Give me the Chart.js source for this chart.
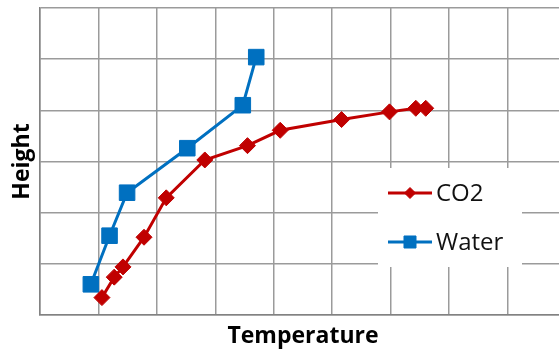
<!DOCTYPE html>
<html>
<head>
<meta charset="utf-8">
<script src="https://cdn.jsdelivr.net/npm/chart.js@4.4.1/dist/chart.umd.min.js"></script>
<style>
  html, body { margin: 0; padding: 0; background: #fff; overflow: hidden; }
  #wrap { width: 580px; height: 351px; }
</style>
</head>
<body>
<div id="wrap"><canvas id="chart" width="580" height="351"></canvas></div>
<script>
// values, in grid units
const co2X = [1.06, 1.27, 1.42, 1.78, 2.16, 2.82, 3.55, 4.11, 5.16, 5.98, 6.43, 6.60];
const co2Y = [0.34, 0.74, 0.94, 1.52, 2.29, 3.03, 3.31, 3.61, 3.82, 3.97, 4.04, 4.04];
const waterX = [0.87, 1.19, 1.49, 2.52, 3.47, 3.70];
const waterY = [0.60, 1.55, 2.39, 3.26, 4.10, 5.04];
const seriesNames = ['CO2', 'Water'];

const toPoints = (xs, ys) => xs.map((x, i) => ({ x: x, y: ys[i] }));

const gridColor = 'rgb(155,155,155)';

// legend box drawn inside the plot, like the original
const insideLegend = {
    id: 'insideLegend',
    afterDraw(chart) {
        const ctx = chart.ctx;
        const box = { x: 378, y: 168, w: 144, h: 99 };
        ctx.save();
        ctx.fillStyle = '#fff';
        ctx.fillRect(box.x, box.y, box.w, box.h);
        const rows = [193, 242];
        chart.data.datasets.forEach((ds, i) => {
            const y = rows[i];
            ctx.strokeStyle = ds.borderColor;
            ctx.lineWidth = 3;
            ctx.beginPath();
            ctx.moveTo(388, y);
            ctx.lineTo(432, y);
            ctx.stroke();
            ctx.fillStyle = ds.backgroundColor;
            ctx.strokeStyle = ds.borderColor;
            ctx.lineWidth = 1;
            Chart.helpers.drawPoint(ctx, {
                pointStyle: ds.pointStyle,
                radius: ds.pointStyle === 'rect' ? 8.5 : 5.5,
                rotation: 0,
                borderWidth: 1
            }, 410, y);
            ctx.fillStyle = '#111';
            ctx.font = '24px "Open Sans"';
            ctx.textBaseline = 'middle';
            ctx.textAlign = 'left';
            ctx.fillText(ds.label, 436, y + 1);
        });
        ctx.restore();
    }
};

new Chart(document.getElementById('chart').getContext('2d'), {
    type: 'line',
    data: {
        datasets: [{
            label: seriesNames[0],
            data: toPoints(co2X, co2Y),
            borderColor: '#C00000',
            backgroundColor: '#C00000',
            borderWidth: 3,
            pointStyle: 'rectRot',
            pointRadius: 8,
            pointBorderWidth: 1,
            tension: 0
        }, {
            label: seriesNames[1],
            data: toPoints(waterX, waterY),
            borderColor: '#0070C0',
            backgroundColor: '#0070C0',
            borderWidth: 3,
            pointStyle: 'rect',
            pointRadius: 11,
            pointBorderWidth: 1,
            tension: 0
        }]
    },
    options: {
        responsive: false,
        animation: false,
        layout: { autoPadding: false, padding: { top: 8, right: 14, left: 0, bottom: 0 } },
        plugins: {
            legend: { display: false },
            tooltip: { enabled: false }
        },
        scales: {
            x: {
                type: 'linear',
                min: 0,
                max: 9,
                ticks: { display: false, stepSize: 1 },
                grid: { color: gridColor, lineWidth: 1.5, drawTicks: false },
                border: { color: 'rgb(130,130,130)', width: 1.5 },
                title: {
                    display: true,
                    text: 'Temperature',
                    color: '#000',
                    font: { family: 'Open Sans', size: 23, weight: 'bold' },
                    padding: { top: 0, bottom: 1 }
                },
                afterFit(scale) { scale.height = 36; }
            },
            y: {
                type: 'linear',
                min: 0,
                max: 6,
                ticks: { display: false, stepSize: 1 },
                grid: { color: gridColor, lineWidth: 1.5, drawTicks: false },
                border: { color: 'rgb(130,130,130)', width: 1.5 },
                title: {
                    display: true,
                    text: 'Height',
                    color: '#000',
                    font: { family: 'Open Sans', size: 23, weight: 'bold' },
                    padding: { top: 9, bottom: 0 }
                },
                afterFit(scale) { scale.width = 40; }
            }
        }
    },
    plugins: [insideLegend]
});
</script>
</body>
</html>
